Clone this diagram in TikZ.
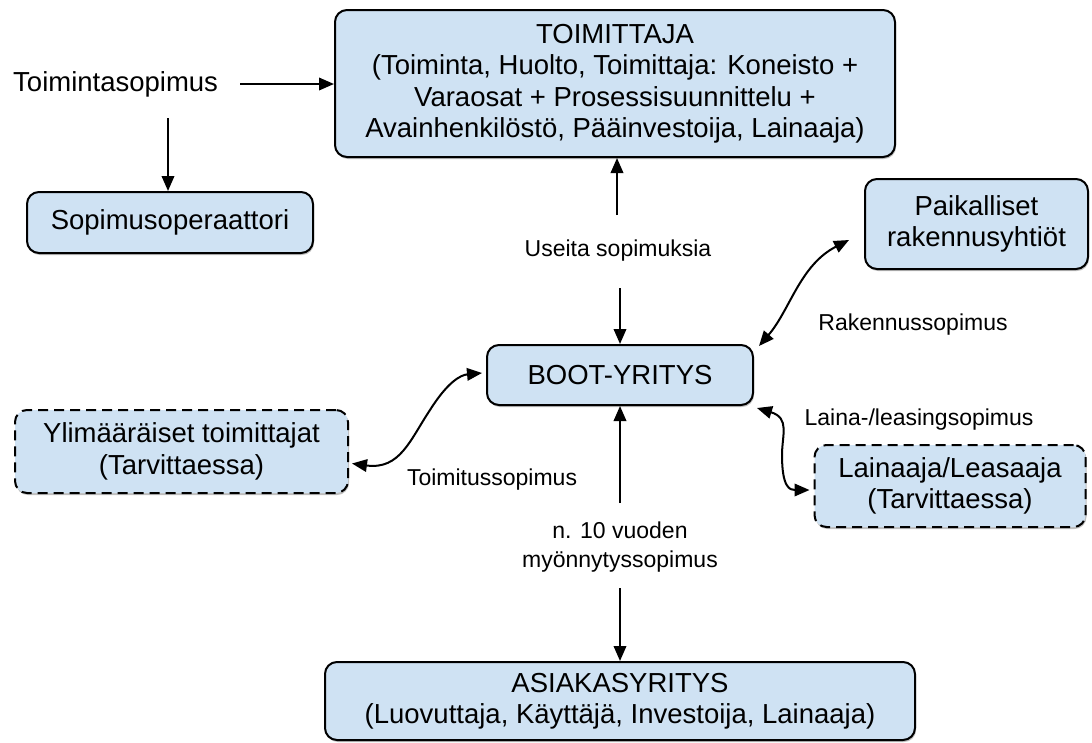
\documentclass[tikz,border=0pt]{standalone}
\usepackage{fontspec}
\setmainfont{Liberation Sans}
\usetikzlibrary{arrows.meta,shadows}
\definecolor{boxblue}{RGB}{207,226,243}
\newcommand\boxfont{\fontsize{27.5}{31.5}\selectfont}
\newcommand\labfont{\fontsize{23}{29}\selectfont}
\begin{document}
\begin{tikzpicture}[x=1pt,y=-1pt,
  box/.style={draw=black, line width=2pt, fill=boxblue, rounded corners=12pt, align=center, font=\boxfont, inner sep=0pt,
    drop shadow={shadow xshift=1pt, shadow yshift=-2pt, fill=black, opacity=0.25}},
  dbox/.style={box, dash pattern=on 10pt off 6pt},
  lbl/.style={font=\labfont, align=center, inner sep=0pt},
  arr/.style={line width=2pt, -{Triangle[length=15pt,width=12.5pt]}},
  dbl/.style={line width=2pt, {Triangle[length=15pt,width=12.5pt]}-{Triangle[length=15pt,width=12.5pt]}}
]
\useasboundingbox (0,0) rectangle (1092,742);
\fill[white] (0,0) rectangle (1092,742);

% boxes
\node[box, minimum width=560pt, minimum height=147pt] (top) at (615,83.5)
  {TOIMITTAJA\\(Toiminta, Huolto, Toimittaja: Koneisto +\\Varaosat + Prosessisuunnittelu +\\Avainhenkilöstö, Pääinvestoija, Lainaaja)};
\node[box, minimum width=286pt, minimum height=61pt] (sopop) at (170,222.5) {Sopimusoperaattori};
\node[box, minimum width=266pt, minimum height=60pt] (boot) at (620,375) {BOOT-YRITYS};
\node[box, minimum width=223pt, minimum height=90pt] (paik) at (976.5,224) {Paikalliset\\rakennusyhtiöt};
\node[dbox, minimum width=333pt, minimum height=83pt] (ylim) at (181.5,451.5) {Ylimääräiset toimittajat\\(Tarvittaessa)};
\node[dbox, minimum width=271pt, minimum height=82pt] (laina) at (950,486) {Lainaaja/Leasaaja\\(Tarvittaessa)};
\node[box, minimum width=590pt, minimum height=78pt] (asiakas) at (620,701) {ASIAKASYRITYS\\(Luovuttaja, Käyttäjä, Investoija, Lainaaja)};

% labels
\node[anchor=west, font=\boxfont, inner sep=0pt] (toim) at (13,84) {Toimintasopimus};
\node[lbl] (useita) at (618,251) {Useita sopimuksia};
\node[lbl] (rak) at (913,325) {Rakennussopimus};
\node[lbl] (lsop) at (919,420) {Laina-/leasingsopimus};
\node[lbl] (tsop) at (492,480) {Toimitussopimus};
\node[lbl] (myon) at (620,547) {n. 10 vuoden\\myönnytyssopimus};

% connector ends
\coordinate (c1) at (240,84);
\coordinate (c2) at (168,118);
\coordinate (c3) at (617,215);
\coordinate (c4) at (620,288);
\coordinate (c5) at (620,503);
\coordinate (c6) at (620,588);

\draw[arr] (c1) -- (top.west |- c1);
\draw[arr] (c2) -- (sopop.north -| c2);
\draw[arr] (c3) -- (top.south -| c3);
\draw[arr] (c4) -- (boot.north -| c4);
\draw[arr] (c5) -- (boot.south -| c5);
\draw[arr] (c6) -- (asiakas.north -| c6);

% curved double arrows
\draw[dbl] ([shift={(5,2)}]boot.north east) .. controls (790,310) and (800,265) .. ([shift={(-15,16)}]paik.west);
\draw[dbl] ([shift={(3,2)}]boot.south east) .. controls (790,418) and (782,435) .. (782,455)
  .. controls (782,488) and (790,490) .. ([shift={(-4,4)}]laina.west);
\draw[dbl] ([shift={(3,12)}]ylim.east) .. controls (400,470) and (410,440) .. (430,410)
  .. controls (447,383) and (460,375) .. ([shift={(-4,-2)}]boot.west);
\end{tikzpicture}
\end{document}
